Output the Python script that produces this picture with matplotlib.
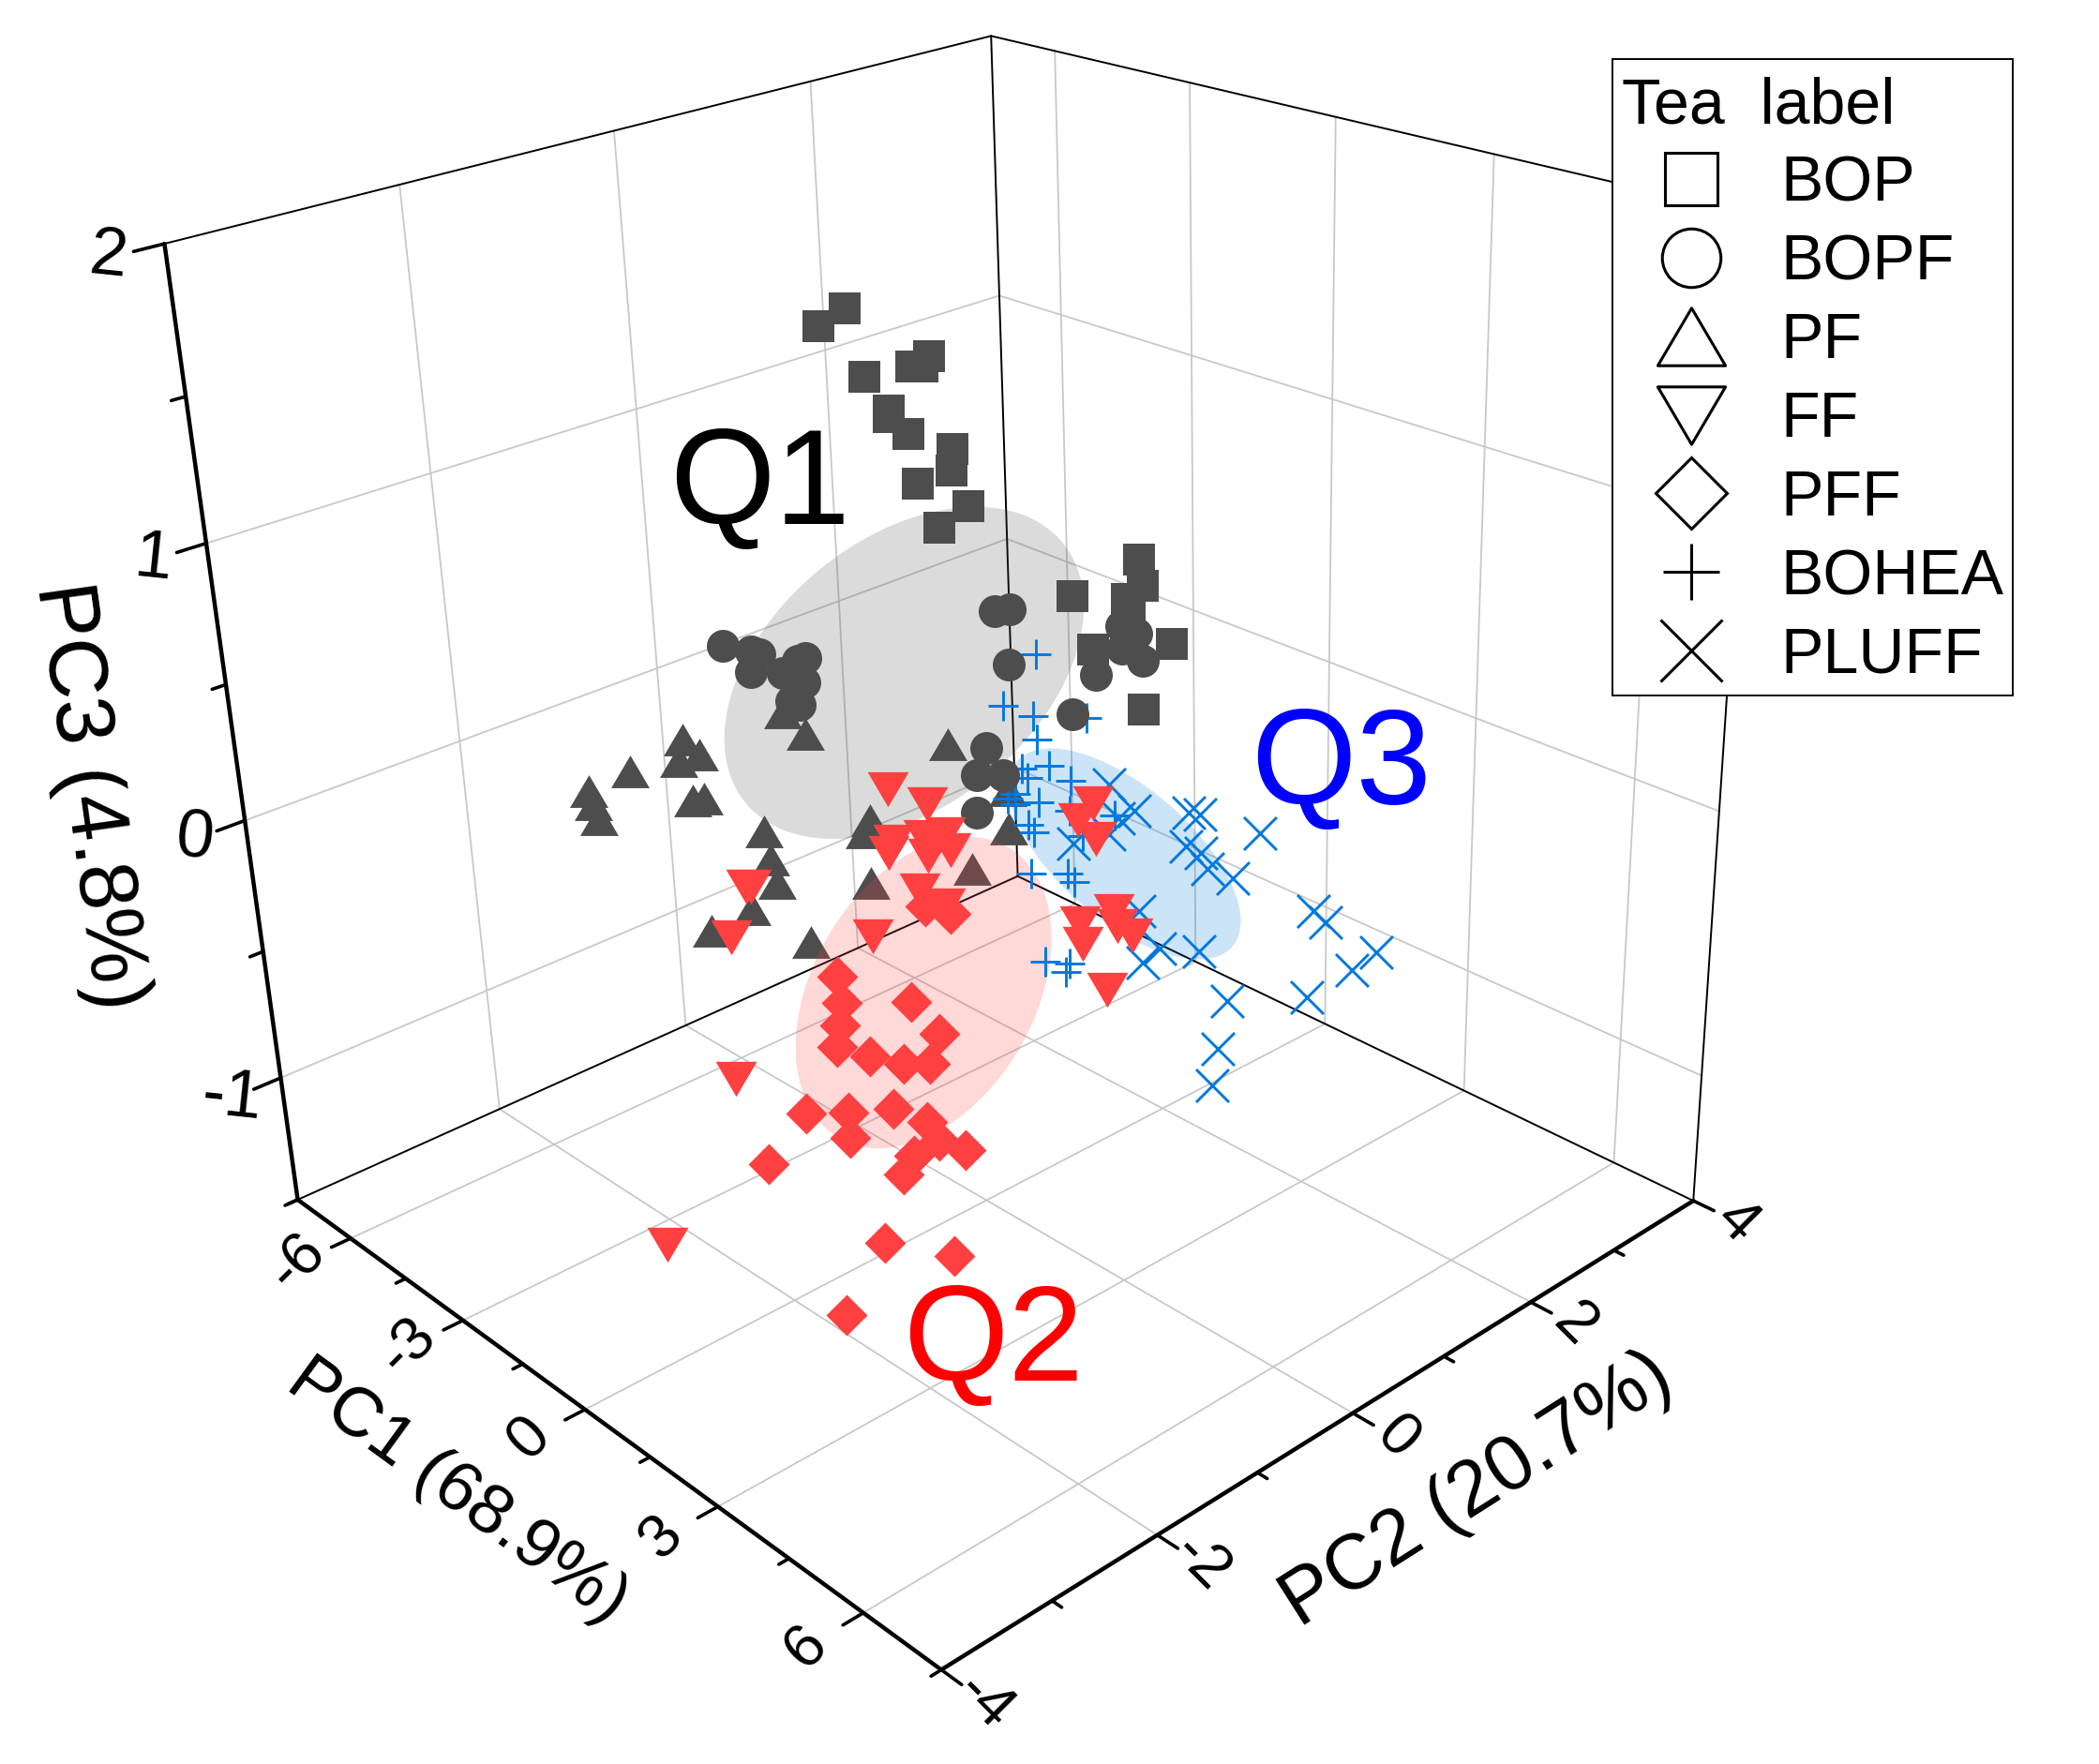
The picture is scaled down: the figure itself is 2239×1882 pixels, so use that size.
import numpy as np
import matplotlib
matplotlib.use("Agg")
import matplotlib.pyplot as plt
from matplotlib.lines import Line2D
from matplotlib.path import Path
from mpl_toolkits.mplot3d import proj3d
from mpl_toolkits.mplot3d.art3d import Poly3DCollection

plt.rcParams['font.family'] = ['Liberation Sans', 'DejaVu Sans']

W, H = 2239, 1882

# scores (depth along PC2 is an estimate)
bop_pc1 = [0.01, -0.55, 0.57, 0.20, 0.43, 0.35, -0.31, -0.32, 0.08, -0.11, -0.16, 0.23, 0.17, 0.64, 1.58, 1.65, 1.22, 1.32, 1.38, 2.21, 1.61, 1.63]
bop_pc2 = [-1, -1, -0.5, -0.5, -0.5, -1, -0.5, -0.5, -0.5, 0, 0, -0.5, 0, -0.5, 1, 1, 0.5, 1, 1, 1, 0.5, 1]
bop_pc3 = [1.856, 1.772, 1.681, 1.628, 1.641, 1.659, 1.457, 1.435, 1.402, 1.283, 1.208, 1.248, 1.107, 1.127, 0.888, 0.802, 0.803, 0.734, 0.675, 0.638, 0.645, 0.364]

bopf_pc1 = [-0.42, -0.10, -0.16, 0.14, -0.71, -0.94, -0.36, -0.97, 0.22, 0.53, 0.23, 0.66, 0.66, -1.89, -2.50, -2.31, -2.54, -1.79, -1.43, -1.26, -1.31, -1.50, -1.64, -1.45]
bopf_pc2 = [0.5, 0.5, 0.5, 1, 0.5, 0.5, 0.5, 0.5, 1.5, 1.5, 1.5, 1.5, 1, -1.5, -1, -1, -1, -1, -1, -1, -1, -1, -1, -1]
bopf_pc3 = [0.640, 0.668, 0.467, 0.237, 0.121, 0.001, 0.047, -0.143, 0.495, 0.489, 0.413, 0.399, 0.418, 0.688, 0.556, 0.560, 0.480, 0.530, 0.599, 0.621, 0.531, 0.520, 0.441, 0.441]

pf_pc1 = [-3.04, -3.02, -2.64, -3.15, -4.13, -4.04, -3.93, -2.88, -2.60, -1.85, -1.36, -2.48, -2.37, -2.24, -2.91, -2.66, -1.52, -1.23, -1.17, -1.32, -0.47, -1.13, -0.27, -0.27]
pf_pc2 = [-2, -1.5, -1.5, -1.5, -2, -2, -2, -1.5, -1.5, -1, -1, -1, -1, -1, -1, -1.5, -1, -0.5, -0.5, -0.5, 0, 0.5, 0.5, 0.5]
pf_pc3 = [0.228, 0.271, 0.246, 0.182, 0.071, 0.029, -0.018, 0.058, 0.087, 0.385, 0.344, -0.102, -0.199, -0.278, -0.435, -0.414, -0.440, -0.272, -0.032, -0.089, 0.227, -0.372, -0.147, -0.002]

ff_pc1 = [-0.72, -0.99, -0.62, -1.11, -0.66, -0.79, -0.50, -1.02, -1.25, -0.68, -1.25, -1.74, -2.89, -2.19, -2.33, -3.11, 0.54, 0.21, 0.59, 0.94, 0.20, 0.25, 1.01, 1.33, 0.77]
ff_pc2 = [-0.5, 0, 0, 0, -0.5, -0.5, 0, 0, 0, 0, -0.5, -1.5, -1, -1.5, -1.5, -2, 1, 1, 1, 1, 1, 1, 1, 1, 1]
ff_pc3 = [0.118, -0.035, -0.118, -0.169, -0.071, -0.123, -0.169, -0.232, -0.384, -0.394, -0.478, -0.168, -0.347, -0.397, -0.960, -1.618, -0.064, -0.154, -0.194, -0.440, -0.551, -0.627, -0.491, -0.500, -0.762]

pff_pc1 = [1.44, 1.51, 1.44, 1.35, 1.84, 1.29, 0.88, 1.62, 1.06, 0.56, 0.32, 0.33, 1.34, 0.94, 1.19, 1.76, 1.75, 1.50, 0.86, 0.99, 1.41, 1.20, 2.23, 1.65]
pff_pc2 = [-2, -2, -2, -2, -1.5, -1, -1.5, -1.5, -1, -2, -1.5, -1.5, -1.5, -1, -1, -1, -1.5, -1.5, -2.5, -1.5, -1, -2, -1.5, -1]
pff_pc3 = [-0.133, -0.220, -0.307, -0.394, -0.273, -0.530, -0.563, -0.520, -0.665, -0.716, -0.830, -0.927, -0.715, -0.899, -0.945, -0.923, -0.850, -0.947, -0.780, -1.265, -1.373, -1.423, 0.100, -0.059]

bohea_pc1 = [-0.61, -0.31, -0.71, -0.56, -0.64, -1.00, -0.39, -0.88, 0.07, -0.27, -1.16, -1.17, -0.64, 0.03, 0.01, -0.89, -0.76, 0.31, -0.86, -0.04, 0.10, -0.59, -0.05, -0.14]
bohea_pc2 = [1, 0.5, 1, 1.5, 1, 1, 1, 1, 1, 0.5, 1, 1, 1, 1, 1.5, 1, 1, 1, 1, 1, 1, 1, 1, 1]
bohea_pc3 = [0.403, 0.306, 0.166, 0.098, 0.084, -0.053, 0.004, -0.080, -0.016, -0.034, -0.163, -0.203, -0.154, -0.133, -0.230, -0.260, -0.280, -0.207, -0.447, -0.379, -0.400, -0.773, -0.732, -0.773]

pluff_pc1 = [0.89, 1.41, 1.08, 0.87, 1.12, 1.58, 1.81, 1.51, 1.82, 1.96, 2.47, 2.11, 3.20, 2.58, 3.59, 3.12, 3.08, 2.35, 2.15, 2.03, 1.77, 1.90, 1.54, 1.48]
pluff_pc2 = [1, 1, 1, 1, 0.5, 1.5, 1.5, 1.5, 1.5, 1.5, 1.5, 2, 2, 2.5, 2.5, 2.5, 2, 1.5, 1.5, 1.5, 1.5, 1, 1, 1]
pluff_pc3 = [0.034, -0.022, -0.077, -0.154, -0.090, -0.093, -0.082, -0.226, -0.225, -0.274, -0.266, -0.206, -0.410, -0.590, -0.617, -0.730, -0.753, -0.747, -0.954, -1.112, -0.606, -0.500, -0.586, -0.394]

# confidence regions: centre and the two half axes in PC1/PC3 (PC2 held at the centre)
q1_centre = [-1.70, 0.0, 0.365]
q1_axes = [[1.80, -0.248], [-3.74, -0.742]]
q2_centre = [0.817, -1.0, -0.445]
q2_axes = [[-2.05, 0.021], [2.02, 0.725]]
q3_centre = [1.12, 1.0, -0.203]
q3_axes = [[-0.928, -0.266], [-2.239, 0.164]]

pc1_labels = [-6, -3, 0, 3, 6]
pc1_minor = [-7.5, -4.5, -1.5, 1.5, 4.5, 7.5]
pc2_labels = [-4, -2, 0, 2, 4]
pc2_minor = [-3, -1, 1, 3]
pc3_labels = [-1, 0, 1, 2]
pc3_minor = [-1.5, -0.5, 0.5, 1.5]

x0, x1 = -7.5, 7.5
y0, y1 = -4, 4
z0, z1 = -1.5, 2

DARK = '#4d4d4d'
RED = '#ff4040'
BLUE = '#0078dc'
GRID = '#c8c8c8'

UP_TRI = Path([(-1, -0.85), (1, -0.85), (0, 0.85), (-1, -0.85)], closed=True)
DOWN_TRI = Path([(-1, 0.85), (1, 0.85), (0, -0.85), (-1, 0.85)], closed=True)

fig = plt.figure(figsize=(W / 100, H / 100), dpi=100)
ax = fig.add_axes([0.02599, 0.05766, 0.84876, 1.00976], projection='3d')
ax.set_xlim(x0, x1, view_margin=0)
ax.set_ylim(y0, y1, view_margin=0)
ax.set_zlim(z0, z1, view_margin=0)
ax.set_box_aspect((0.9839, 0.9872, 1.0))
ax.set_proj_type('persp', focal_length=0.3566)
ax.view_init(25.383, -40.880, 2.164)
ax.set_axis_off()
ax.computed_zorder = False
proj = ax.get_proj()


def line3(a, b, lw, color='black', zorder=2):
    ax.plot([a[0], b[0]], [a[1], b[1]], [a[2], b[2]], color=color, lw=lw, zorder=zorder,
            solid_capstyle='round', clip_on=False)


def tick_text(x, y, z, s, size, angle):
    px, py, _ = proj3d.proj_transform(x, y, z, proj)
    ax.text2D(px, py, s, transform=ax.transData, fontsize=size, rotation=angle, ha='center', va='center',
              rotation_mode='anchor')


# grid on the floor and the two back walls
for v in pc1_labels:
    line3((v, y0, z0), (v, y1, z0), 1.3, GRID, 1)
    line3((v, y1, z0), (v, y1, z1), 1.3, GRID, 1)
for v in pc2_labels[1:-1]:
    line3((x0, v, z0), (x1, v, z0), 1.3, GRID, 1)
    line3((x0, v, z0), (x0, v, z1), 1.3, GRID, 1)
for v in pc3_labels[:-1]:
    line3((x0, y0, v), (x0, y1, v), 1.3, GRID, 1)
    line3((x0, y1, v), (x1, y1, v), 1.3, GRID, 1)

# thin box edges
line3((x0, y0, z0), (x0, y1, z0), 1.4)
line3((x0, y1, z0), (x1, y1, z0), 1.4)
line3((x0, y1, z0), (x0, y1, z1), 1.4)
line3((x0, y0, z1), (x0, y1, z1), 1.4)
line3((x0, y1, z1), (x1, y1, z1), 1.4)
line3((x1, y1, z0), (x1, y1, z1), 1.4)

# thick axes
line3((x0, y0, z0), (x1, y0, z0), 3.2, zorder=3)
line3((x1, y0, z0), (x1, y1, z0), 3.2, zorder=3)
line3((x0, y0, z0), (x0, y0, z1), 3.2, zorder=3)

# ticks
for v in pc1_labels:
    line3((v, y0, z0), (v, y0 - 0.18, z0), 2.6, zorder=3)
    tick_text(v, y0 - 0.5, z0, str(v), 47, 45)
for v in pc1_minor:
    line3((v, y0, z0), (v, y0 - 0.09, z0), 2.6, zorder=3)
for v in pc2_labels:
    line3((x1, v, z0), (x1 + 0.38, v, z0), 2.6, zorder=3)
    tick_text(x1 + 0.8, v, z0, str(v), 47, -45)
for v in pc2_minor:
    line3((x1, v, z0), (x1 + 0.18, v, z0), 2.6, zorder=3)
for v in pc3_labels:
    line3((x0, y0, v), (x0, y0 - 0.25, v), 2.6, zorder=3)
    tick_text(x0, y0 - 0.45, v, str(v), 52, -6)
for v in pc3_minor:
    line3((x0, y0, v), (x0, y0 - 0.12, v), 2.6, zorder=3)

ax.scatter(pf_pc1, pf_pc2, pf_pc3, marker=UP_TRI, s=870, c=DARK, linewidths=0, depthshade=False, zorder=4)


def region(centre, axes, color):
    t = np.linspace(0, 2 * np.pi, 240)
    xs = centre[0] + axes[0][0] * np.cos(t) + axes[1][0] * np.sin(t)
    zs = centre[2] + axes[0][1] * np.cos(t) + axes[1][1] * np.sin(t)
    ys = np.full_like(t, centre[1])
    poly = Poly3DCollection([list(zip(xs, ys, zs))], facecolor=color, edgecolor='none', alpha=0.2, zorder=5)
    ax.add_collection3d(poly)


region(q1_centre, q1_axes, DARK)
region(q2_centre, q2_axes, RED)
region(q3_centre, q3_axes, BLUE)

ax.scatter(bohea_pc1, bohea_pc2, bohea_pc3, marker='+', s=530, c=BLUE, linewidths=2.1, depthshade=False, zorder=6)
ax.scatter(pluff_pc1, pluff_pc2, pluff_pc3, marker='x', s=635, c=BLUE, linewidths=2.1, depthshade=False, zorder=6)
ax.scatter(bop_pc1, bop_pc2, bop_pc3, marker='s', s=600, c=DARK, linewidths=0, depthshade=False, zorder=7)
ax.scatter(bopf_pc1, bopf_pc2, bopf_pc3, marker='o', s=635, c=DARK, linewidths=0, depthshade=False, zorder=7)
ax.scatter(ff_pc1, ff_pc2, ff_pc3, marker=DOWN_TRI, s=1000, c=RED, linewidths=0, depthshade=False, zorder=8)
ax.scatter(pff_pc1, pff_pc2, pff_pc3, marker='D', s=502, c=RED, linewidths=0, depthshade=False, zorder=8)

# axis titles and cluster names
fig.text(95 / W, 1 - 850 / H, 'PC3 (4.8%)', fontsize=64, rotation=-82, ha='center', va='center')
fig.text(488 / W, 1 - 1591 / H, 'PC1 (68.9%)', fontsize=54, rotation=-36, ha='center', va='center')
fig.text(1575 / W, 1 - 1590 / H, 'PC2 (20.7%)', fontsize=60, rotation=32.5, ha='center', va='center')
fig.text(714 / W, 1 - 559 / H, 'Q1', fontsize=104, color='black', ha='left', va='baseline')
fig.text(963 / W, 1 - 1473 / H, 'Q2', fontsize=104, color='#ff0000', ha='left', va='baseline')
fig.text(1334 / W, 1 - 858 / H, 'Q3', fontsize=104, color='#0000ff', ha='left', va='baseline')

handles = [
    Line2D([], [], ls='none', marker='s', ms=40, mfc='none', mec='black', mew=2.2),
    Line2D([], [], ls='none', marker='o', ms=45, mfc='none', mec='black', mew=2.2),
    Line2D([], [], ls='none', marker=UP_TRI, ms=52, mfc='none', mec='black', mew=2.2),
    Line2D([], [], ls='none', marker=DOWN_TRI, ms=52, mfc='none', mec='black', mew=2.2),
    Line2D([], [], ls='none', marker='D', ms=39, mfc='none', mec='black', mew=2.2),
    Line2D([], [], ls='none', marker='+', ms=43, mec='black', mew=2.2),
    Line2D([], [], ls='none', marker='x', ms=47, mec='black', mew=2.2),
]
names = ['BOP', 'BOPF', 'PF', 'FF', 'PFF', 'BOHEA', 'PLUFF']
leg = fig.legend(handles, names, loc='upper left', bbox_to_anchor=(1720 / W, 1 - 63 / H), title='Tea  label',
                 alignment='left', fontsize=49, title_fontsize=49, fancybox=False, framealpha=1, edgecolor='black',
                 labelspacing=0.292, handlelength=2.18, handletextpad=0.3, borderpad=0.15, borderaxespad=0)
leg.get_frame().set_linewidth(1.4)
leg.set_zorder(20)
leg.get_title().set_position((0, -8))
leg._legend_box.sep = 19.8

fig.savefig("out.png", dpi=100)
